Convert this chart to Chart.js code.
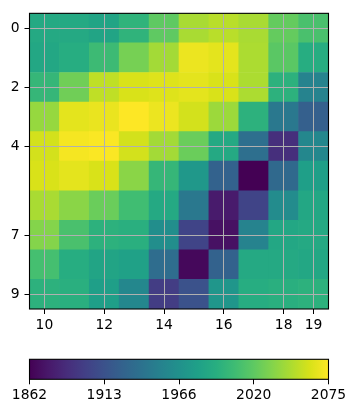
<!DOCTYPE html>
<html><head><meta charset="utf-8">
<script src="https://cdn.jsdelivr.net/npm/chart.js@4"></script>
<style>
html,body{margin:0;padding:0;background:#fff;}
#wrap{position:relative;width:355px;height:413px;overflow:hidden;}
.box{position:absolute;left:0;width:355px;}
</style></head><body>
<div id="wrap">
  <div class="box" style="top:0;height:345px"><canvas id="c1"></canvas></div>
  <div class="box" style="top:345px;height:68px"><canvas id="c2"></canvas></div>
</div>
<script>
// ---- data ----
const columns = [10, 11, 12, 13, 14, 15, 16, 17, 18, 19];
const rows = [0, 1, 2, 3, 4, 5, 6, 7, 8, 9];
const cellValues = [
  [1990, 1990, 1986, 2000, 2022, 2047, 2052, 2047, 2024, 2013],
  [1988, 1994, 2007, 2030, 2045, 2069, 2066, 2048, 2020, 1994],
  [2003, 2028, 2054, 2062, 2064, 2066, 2062, 2048, 1998, 1956],
  [2041, 2066, 2068, 2075, 2069, 2060, 2043, 1998, 1947, 1926],
  [2060, 2072, 2074, 2060, 2045, 2026, 1990, 1939, 1890, 1960],
  [2062, 2066, 2062, 2037, 2003, 1975, 1928, 1862, 1934, 1981],
  [2047, 2037, 2026, 2009, 1990, 1947, 1877, 1905, 1964, 1988],
  [2035, 2013, 1998, 1996, 1966, 1905, 1871, 1956, 1988, 1990],
  [2011, 1994, 1986, 1983, 1937, 1866, 1928, 1990, 1990, 1988],
  [1998, 1996, 1981, 1960, 1900, 1915, 1973, 1994, 1996, 1998]
];
const xTicks = [10, 12, 14, 16, 18, 19];
const yTicks = [0, 2, 4, 7, 9];
const cbMin = 1862, cbMax = 2075;
const cbTickLabels = ['1862', '1913', '1966', '2020', '2075'];

// ---- colormap ----
const viridisStops = ['#440154','#48186a','#472d7b','#424086','#3b528b','#33638d','#2c728e','#26828e',
  '#21918c','#1fa088','#28ae80','#3fbc73','#5ec962','#84d44b','#addc30','#d8e219','#fde725'];
function hexToRgb(h){return [parseInt(h.slice(1,3),16),parseInt(h.slice(3,5),16),parseInt(h.slice(5,7),16)];}
const stopRgb = viridisStops.map(hexToRgb);
function viridis(v){
  let t = (v - cbMin) / (cbMax - cbMin);
  t = Math.max(0, Math.min(1, t));
  const p = t * (stopRgb.length - 1);
  const i = Math.min(Math.floor(p), stopRgb.length - 2);
  const f = p - i;
  const a = stopRgb[i], b = stopRgb[i + 1];
  const c = a.map((x, k) => Math.round(x + (b[k] - x) * f));
  return 'rgb(' + c.join(',') + ')';
}

Chart.defaults.font.family = "'DejaVu Sans', sans-serif";
Chart.defaults.font.size = 13.89;
Chart.defaults.color = '#000';

const framePlugin = {
  id: 'frame',
  afterDraw(chart) {
    const {ctx, chartArea: a} = chart;
    ctx.save();
    ctx.strokeStyle = '#000';
    ctx.lineWidth = 1.1;
    ctx.strokeRect(a.left, a.top, a.right - a.left, a.bottom - a.top);
    ctx.restore();
  }
};

// ---- heatmap ----
const cells = [];
rows.forEach((r, i) => columns.forEach((c, j) => {
  cells.push({x: c, y: [r - 0.5, r + 0.5], v: cellValues[i][j]});
}));

new Chart(document.getElementById('c1'), {
  type: 'bar',
  data: {
    datasets: [{
      data: cells,
      backgroundColor: (ctx) => viridis(ctx.raw ? ctx.raw.v : cbMin),
      borderWidth: 0,
      barPercentage: 1,
      categoryPercentage: 1
    }]
  },
  options: {
    responsive: true, maintainAspectRatio: false, animation: false,
    layout: {padding: {left: 0, right: 26.5, top: 10, bottom: 0}},
    plugins: {legend: {display: false}, tooltip: {enabled: false}},
    scales: {
      x: {
        type: 'linear', min: columns[0] - 0.5, max: columns[columns.length - 1] + 0.5,
        offset: false,
        grid: {offset: false, z: 1, color: '#b0b0b0', lineWidth: 1, tickColor: '#000', tickLength: 5},
        border: {display: false},
        ticks: {padding: 3, maxRotation: 0, autoSkip: false},
        afterBuildTicks: (s) => { s.ticks = xTicks.map(v => ({value: v})); },
        afterFit: (s) => { s.height = 36; }
      },
      y: {
        type: 'linear', min: rows[0] - 0.5, max: rows[rows.length - 1] + 0.5, reverse: true,
        offset: false,
        grid: {z: 1, color: '#b0b0b0', lineWidth: 1, tickColor: '#000', tickLength: 5},
        border: {display: false},
        ticks: {padding: 5, autoSkip: false},
        afterBuildTicks: (s) => { s.ticks = yTicks.map(v => ({value: v})); },
        afterFit: (s) => { s.width = 29.5; }
      }
    }
  },
  plugins: [framePlugin]
});

// ---- colorbar ----
function cbGradient(ctx) {
  const a = ctx.chart.chartArea;
  if (!a) return 'transparent';
  const g = ctx.chart.ctx.createLinearGradient(a.left, 0, a.right, 0);
  viridisStops.forEach((c, i) => g.addColorStop(i / (viridisStops.length - 1), c));
  return g;
}

new Chart(document.getElementById('c2'), {
  type: 'bar',
  data: {
    labels: ['colorbar'],
    datasets: [{
      data: [[cbMin, cbMax]],
      backgroundColor: cbGradient,
      borderWidth: 0,
      barPercentage: 1,
      categoryPercentage: 1
    }]
  },
  options: {
    indexAxis: 'y',
    responsive: true, maintainAspectRatio: false, animation: false,
    layout: {padding: {left: 29.5, right: 26.5, top: 14.3, bottom: 0}},
    plugins: {legend: {display: false}, tooltip: {enabled: false}},
    scales: {
      y: {display: false},
      x: {
        type: 'linear', min: cbMin, max: cbMax, offset: false,
        grid: {drawOnChartArea: false, tickColor: '#000', tickLength: 5, offset: false},
        border: {display: false},
        ticks: {padding: 3, autoSkip: false, maxRotation: 0, callback: (v, i) => cbTickLabels[i]},
        afterBuildTicks: (s) => {
          const n = cbTickLabels.length;
          s.ticks = cbTickLabels.map((l, i) => ({value: cbMin + (cbMax - cbMin) * i / (n - 1)}));
        },
        afterFit: (s) => { s.height = 33.7; }
      }
    }
  },
  plugins: [framePlugin]
});
</script>
</body></html>
